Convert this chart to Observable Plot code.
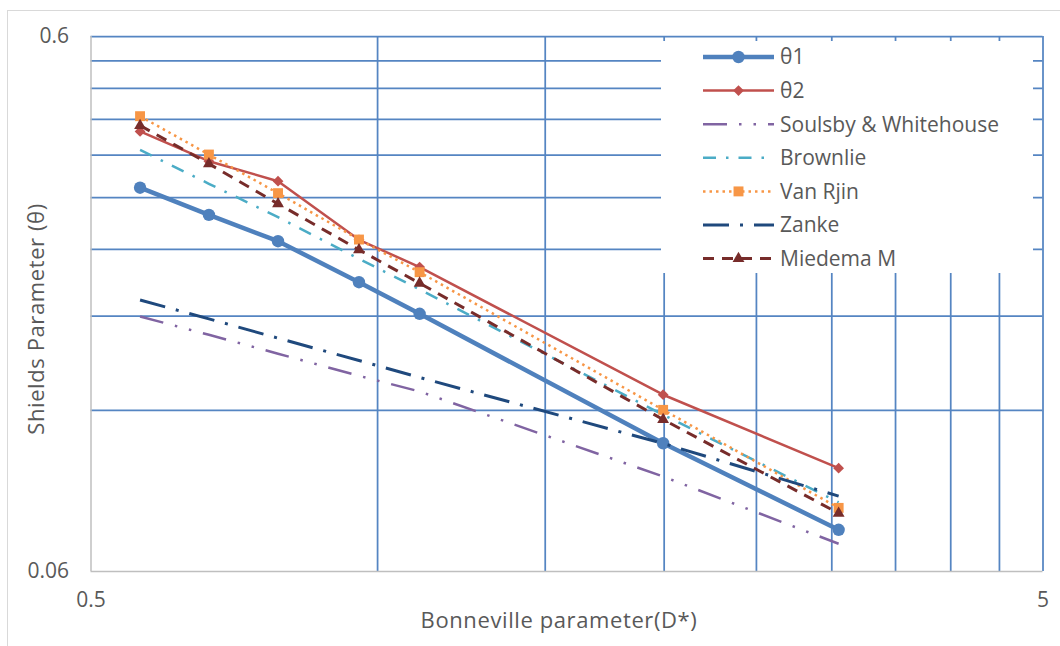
<!DOCTYPE html>
<html>
<head>
<meta charset="utf-8">
<script src="https://cdn.jsdelivr.net/npm/d3@7"></script>
<script src="https://cdn.jsdelivr.net/npm/@observablehq/plot@0.6"></script>
<style>
  html, body { margin: 0; padding: 0; background: #ffffff; }
  #wrap { position: relative; width: 1060px; height: 646px; overflow: hidden; background: #fff; }
  #frame { position: absolute; left: 7px; top: 10px; width: 1100px; height: 700px; border-left: 1px solid #d9d9d9; border-top: 1px solid #d9d9d9; pointer-events: none; }
  #legend { position: absolute; left: 661px; top: 41px; width: 372px; height: 232px; background: #fff; }
</style>
</head>
<body>
<div id="wrap"><div id="frame"></div></div>
<script>
// ---- data ----
const xVals    = [0.563, 0.665, 0.786, 0.956, 1.107, 1.995, 3.05];
const theta1   = [0.313, 0.2785, 0.2486, 0.2084, 0.1819, 0.1042, 0.0718];
const theta2   = [0.3987, 0.3508, 0.3219, 0.2501, 0.2224, 0.1284, 0.0936];
const soulsby  = [0.1798, 0.1662, 0.1532, 0.1393, 0.1302, 0.0903, 0.0676];
const brownlie = [0.3684, 0.3183, 0.2757, 0.2305, 0.2020, 0.1178, 0.0808];
const vanRjin  = [0.4258, 0.3610, 0.3057, 0.2504, 0.2176, 0.1203, 0.0789];
const zanke    = [0.193, 0.178, 0.1638, 0.1488, 0.1383, 0.1041, 0.0830];
const miedema  = [0.4091, 0.3469, 0.292, 0.2396, 0.2075, 0.1154, 0.0771];

const seriesNames = ["θ1", "θ2", "Soulsby & Whitehouse", "Brownlie", "Van Rjin", "Zanke", "Miedema M"];
const xTicks = [0.5, 5];
const yTicks = [0.06, 0.6];
const xGrid = [1, 1.5, 2, 2.5, 3, 3.5, 4, 4.5, 5];
const yGrid = [0.12, 0.18, 0.24, 0.3, 0.36, 0.42, 0.48, 0.54, 0.6];
const xTitle = "Bonneville parameter(D*)";
const yTitle = "Shields Parameter (θ)";

// ---- styles ----
const styles = [
  {color: "#4f81bd", width: 4.5, dash: null, symbol: "circle", r: 6.2, rotate: 0},
  {color: "#c0504d", width: 2.5, dash: null, symbol: "square", r: 4.3, rotate: 45},
  {color: "#8064a2", width: 2.5, dash: "24,12,2.5,12,2.5,12", symbol: null},
  {color: "#4bacc6", width: 2.5, dash: "13,10,2.5,10", symbol: null},
  {color: "#f79646", width: 2.5, dash: "2.5,4", symbol: "square", r: 5.6, rotate: 0},
  {color: "#1f497d", width: 3, dash: "26,11,3,11", symbol: null},
  {color: "#772c2a", width: 3, dash: "11,8", symbol: "triangle", r: 4.4, rotate: 0}
];
const seriesValues = [theta1, theta2, soulsby, brownlie, vanRjin, zanke, miedema];
const tables = seriesValues.map((vals, i) => xVals.map((x, j) => ({x, y: vals[j], series: seriesNames[i]})));

const gridColor = "#5585c2";
const textColor = "#595959";
const font = "'Open Sans', Lato, sans-serif";

const marks = [
  Plot.ruleX(xGrid, {stroke: gridColor, strokeWidth: 1.75}),
  Plot.ruleY(yGrid, {stroke: gridColor, strokeWidth: 1.75}),
  Plot.ruleX([xTicks[0]], {stroke: "#bfbfbf", strokeWidth: 1.5}),
  Plot.ruleY([yTicks[0]], {stroke: "#bfbfbf", strokeWidth: 1.5}),
  Plot.axisX({ticks: xTicks, tickSize: 0, tickPadding: 21, tickFormat: d => String(d), label: null, fontSize: 21, fill: textColor}),
  Plot.axisY({ticks: yTicks, tickSize: 0, tickPadding: 22, tickFormat: d => String(d), label: null, fontSize: 21, fill: textColor}),
  Plot.text([yTitle], {frameAnchor: "left", textAnchor: "middle", dx: -54, dy: 15, rotate: -90, text: d => d, fontSize: 22, fill: textColor}),
  Plot.text([xTitle], {frameAnchor: "bottom", textAnchor: "middle", dx: -8, dy: 56, text: d => d, fontSize: 22, fill: textColor})
];
tables.forEach((t, i) => {
  const s = styles[i];
  marks.push(Plot.line(t, {x: "x", y: "y", stroke: s.color, strokeWidth: s.width, strokeDasharray: s.dash || undefined, strokeLinecap: "butt", strokeLinejoin: "round"}));
  if (s.symbol) {
    marks.push(Plot.dot(t, {x: "x", y: "y", symbol: s.symbol, r: s.r, fill: s.color, stroke: "none", rotate: s.rotate}));
  }
});

const chart = Plot.plot({
  width: 1060,
  height: 646,
  marginLeft: 90.5,
  marginRight: 17.5,
  marginTop: 36,
  marginBottom: 75,
  x: {type: "log", domain: [0.5, 5], axis: null},
  y: {type: "log", domain: [0.06, 0.6], axis: null},
  style: {fontFamily: font, background: "transparent", overflow: "visible"},
  marks
});
const wrap = document.getElementById("wrap");
wrap.insertBefore(chart, wrap.firstChild);
// slight letter spacing on the axis titles to match the reference width
chart.querySelectorAll("g[aria-label='text'] text").forEach(t => t.setAttribute("letter-spacing", "0.6"));

// ---- legend overlaid inside the plot area ----
const leg = document.createElement("div");
leg.id = "legend";
wrap.appendChild(leg);
const lsvg = d3.select(leg).append("svg").attr("width", 372).attr("height", 232)
  .style("font-family", font).style("font-size", "21px");
seriesNames.forEach((name, i) => {
  const s = styles[i];
  const cy = 16 + i * 33.6;
  const g = lsvg.append("g").attr("transform", `translate(0,${cy})`);
  g.append("line").attr("x1", 42).attr("x2", 113).attr("y1", 0).attr("y2", 0)
    .attr("stroke", s.color).attr("stroke-width", s.width)
    .attr("stroke-dasharray", s.dash || null);
  if (s.symbol) {
    const sym = {circle: d3.symbolCircle, square: d3.symbolSquare, triangle: d3.symbolTriangle}[s.symbol];
    g.append("path").attr("d", d3.symbol(sym, Math.PI * s.r * s.r)())
      .attr("transform", `translate(77.5,0) rotate(${s.rotate || 0})`)
      .attr("fill", s.color);
  }
  g.append("text").attr("x", 119).attr("y", 0).attr("dy", "0.35em")
    .attr("fill", textColor).text(name);
});
</script>
</body>
</html>
